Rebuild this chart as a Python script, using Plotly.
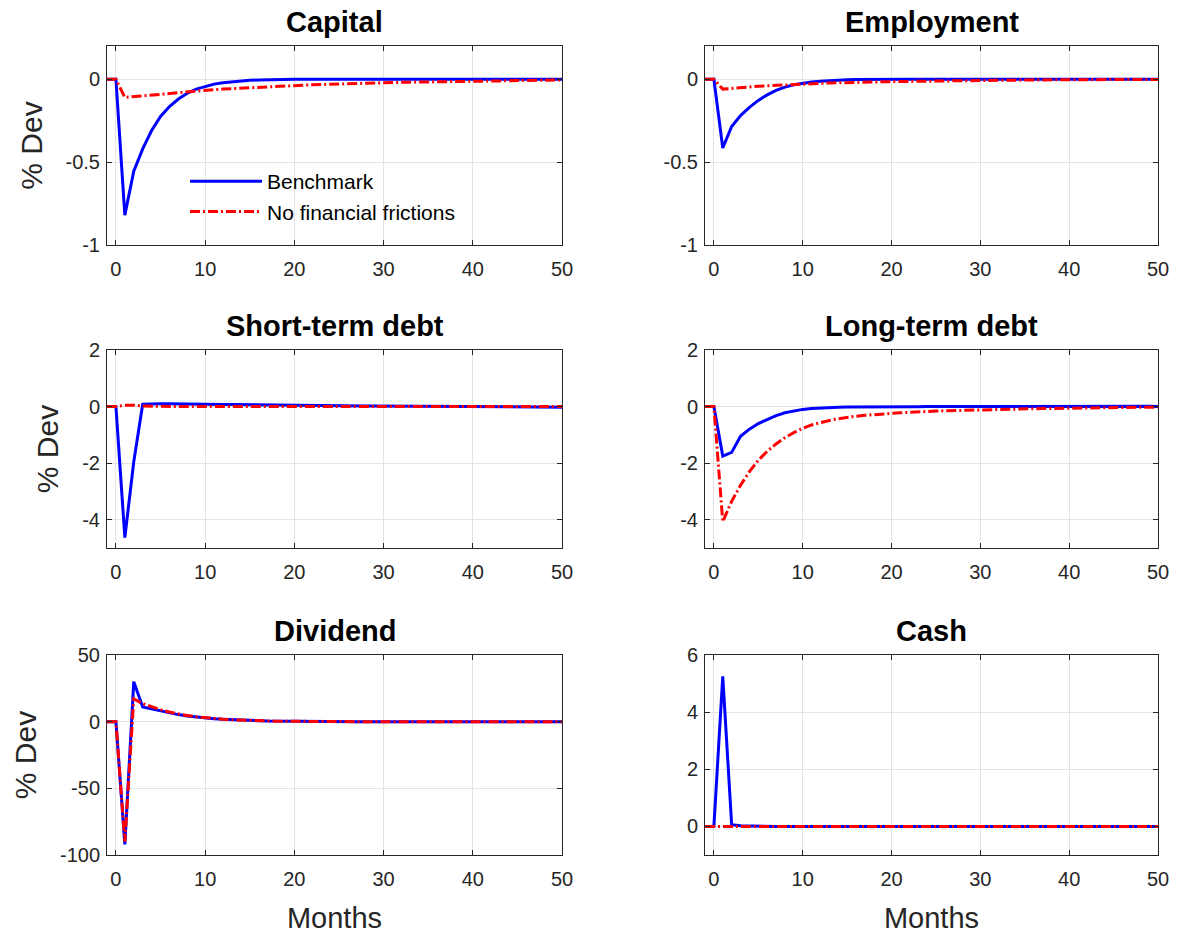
import plotly.graph_objects as go

# Horizon in months (one pre-shock period at -1)
months = list(range(-1, 51))

titles = ["Capital", "Employment", "Short-term debt", "Long-term debt", "Dividend", "Cash"]

capital_bench = [0, 0, -0.82, -0.555, -0.42, -0.31, -0.225, -0.165, -0.12, -0.085, -0.06, -0.043,
                 -0.03, -0.021, -0.015, -0.01, -0.007, -0.005, -0.003, -0.002, -0.001] + [0] * 31
capital_nofric = [0, 0, -0.11, -0.105, -0.1, -0.095, -0.09, -0.085, -0.08, -0.075, -0.071, -0.067,
                  -0.063, -0.06, -0.057, -0.054, -0.051, -0.048, -0.045, -0.043, -0.04, -0.038,
                  -0.036, -0.034, -0.032, -0.03, -0.028, -0.027, -0.025, -0.024, -0.022, -0.021,
                  -0.02, -0.019, -0.018, -0.017, -0.016, -0.015, -0.014, -0.013, -0.012, -0.011,
                  -0.01, -0.0095, -0.009, -0.008, -0.0075, -0.007, -0.0065, -0.006, -0.0055, -0.005]

employ_bench = [0, 0, -0.415, -0.285, -0.22, -0.17, -0.128, -0.095, -0.068, -0.048, -0.034, -0.024,
                -0.017, -0.012, -0.008, -0.005, -0.003, -0.002, -0.001] + [0] * 33
employ_nofric = [0, 0, -0.06, -0.055, -0.051, -0.047, -0.043, -0.04, -0.037, -0.034, -0.031, -0.029,
                 -0.027, -0.025, -0.023, -0.022, -0.02, -0.019, -0.018, -0.017, -0.016, -0.015,
                 -0.014, -0.013, -0.012, -0.011, -0.011, -0.01, -0.009, -0.009, -0.008, -0.008,
                 -0.007, -0.007, -0.006, -0.006, -0.005, -0.005, -0.005, -0.004, -0.004, -0.004,
                 -0.003, -0.003, -0.003, -0.003, -0.003, -0.002, -0.002, -0.002, -0.002, -0.002]

short_bench = [0, 0, -4.63, -1.95, 0.08, 0.1, 0.1, 0.1, 0.1, 0.095, 0.09, 0.085, 0.08, 0.075, 0.07,
               0.065, 0.06, 0.055, 0.05, 0.047, 0.044, 0.04, 0.037, 0.034, 0.031, 0.028, 0.026,
               0.024, 0.022, 0.02, 0.018, 0.016, 0.014, 0.012, 0.011, 0.01, 0.009, 0.008, 0.007,
               0.006, 0.005, 0.004, 0.003, 0.002, 0.001, 0, -0.005, -0.01, -0.015, -0.02, -0.02, -0.02]
short_nofric = [0, 0, 0.05, 0.05, 0.02, 0.01] + [0] * 46

long_bench = [0, 0, -1.75, -1.62, -1.05, -0.8, -0.6, -0.45, -0.32, -0.22, -0.15, -0.1, -0.07,
              -0.05, -0.035, -0.025, -0.018, -0.013, -0.01, -0.008, -0.006, -0.005, -0.004,
              -0.003, -0.002, -0.001] + [0] * 21 + [0.01, 0.02, 0.02, 0.01, 0]
long_nofric = [0, 0, -4.07, -3.35, -2.78, -2.3, -1.9, -1.58, -1.32, -1.1, -0.92, -0.77, -0.65,
               -0.56, -0.49, -0.43, -0.38, -0.34, -0.31, -0.28, -0.26, -0.24, -0.22, -0.2, -0.185,
               -0.17, -0.16, -0.15, -0.14, -0.13, -0.12, -0.11, -0.1, -0.095, -0.09, -0.085, -0.08,
               -0.075, -0.07, -0.065, -0.06, -0.055, -0.05, -0.046, -0.042, -0.038, -0.034, -0.03,
               -0.027, -0.024, -0.021, -0.018]

div_bench = [0, 0, -92, 30, 11, 9.5, 8, 6.5, 5.3, 4.3, 3.5, 2.8, 2.2, 1.8, 1.4, 1.1, 0.9, 0.7,
             0.5, 0.4, 0.3, 0.2, 0.15, 0.1, 0.08, 0.06, 0.04, 0.03, 0.02, 0.01] + [0] * 22
div_nofric = [0, 0, -90, 17, 13.5, 11, 9, 7.2, 5.8, 4.6, 3.7, 2.9, 2.3, 1.8, 1.4, 1.1, 0.85, 0.65,
              0.5, 0.4, 0.3, 0.2, 0.15, 0.1, 0.08, 0.06, 0.04, 0.03, 0.02, 0.01] + [0] * 22

cash_bench = [0, 0, 5.25, 0.06, 0.02, 0.01] + [0] * 46
cash_nofric = [0] * 52

bench_series = [capital_bench, employ_bench, short_bench, long_bench, div_bench, cash_bench]
nofric_series = [capital_nofric, employ_nofric, short_nofric, long_nofric, div_nofric, cash_nofric]

y_ranges = [[-1, 0.2], [-1, 0.2], [-5, 2], [-5, 2], [-100, 50], [-1, 6]]
y_ticks = [[-1, -0.5, 0], [-1, -0.5, 0], [-4, -2, 0, 2], [-4, -2, 0, 2],
           [-100, -50, 0, 50], [0, 2, 4, 6]]
x_ticks = [0, 10, 20, 30, 40, 50]

W, H = 1177, 938
col_px = [(107, 562), (705, 1158)]
row_px = [(46, 245), (350, 548), (655, 855)]

FONT = "Liberation Sans, Arial, Helvetica, sans-serif"
INK = "#262626"
GRID = "#e3e3e3"


def fmt(v):
    return f"{v:g}"


fig = go.Figure()
layout = dict(
    width=W, height=H, margin=dict(l=0, r=0, t=0, b=0, autoexpand=False),
    paper_bgcolor="white", plot_bgcolor="white",
    font=dict(family=FONT, color=INK),
    showlegend=True,
    legend=dict(x=(185 / W), y=1 - 161 / H, xanchor="left", yanchor="top",
                bgcolor="rgba(0,0,0,0)", font=dict(size=21, color="black", family=FONT),
                itemwidth=72, tracegroupgap=0),
)
annotations = []

for i in range(6):
    r, c = divmod(i, 2)
    n = i + 1
    xa = "x" if n == 1 else f"x{n}"
    ya = "y" if n == 1 else f"y{n}"
    x0, x1 = col_px[c]
    top, bot = row_px[r]
    layout["xaxis" if n == 1 else f"xaxis{n}"] = dict(
        domain=[x0 / W, x1 / W], anchor=ya, range=[-1, 50], automargin=False,
        tickvals=x_ticks, ticktext=[fmt(v) for v in x_ticks],
        ticks="inside", ticklen=5, tickcolor=INK, mirror="ticks", ticklabelstandoff=6,
        showline=True, linecolor=INK, linewidth=1,
        showgrid=True, gridcolor=GRID, gridwidth=1, zeroline=False,
        tickfont=dict(size=20, color=INK),
        title=dict(text="Months", font=dict(size=29, color=INK), standoff=18) if r == 2 else None,
    )
    layout["yaxis" if n == 1 else f"yaxis{n}"] = dict(
        domain=[1 - bot / H, 1 - top / H], anchor=xa, range=y_ranges[i], automargin=False,
        tickvals=y_ticks[i], ticktext=[fmt(v) for v in y_ticks[i]],
        ticks="inside", ticklen=5, tickcolor=INK, mirror="ticks", ticklabelstandoff=2,
        showline=True, linecolor=INK, linewidth=1,
        showgrid=True, gridcolor=GRID, gridwidth=1, zeroline=False,
        tickfont=dict(size=20, color=INK),
        title=dict(text="% Dev", font=dict(size=30, color=INK), standoff=14) if c == 0 else None,
    )
    annotations.append(dict(
        text=f"<b>{titles[i]}</b>", x=(x0 + x1) / 2 / W, y=1 - (top - 24) / H,
        xref="paper", yref="paper", xanchor="center", yanchor="middle",
        showarrow=False, font=dict(size=29, color="black", family=FONT),
    ))
    fig.add_trace(go.Scatter(
        x=months, y=bench_series[i], mode="lines", xaxis=xa, yaxis=ya,
        line=dict(color="#0000ff", width=3), name="Benchmark",
        legendgroup="bench", showlegend=(i == 0),
    ))
    fig.add_trace(go.Scatter(
        x=months, y=nofric_series[i], mode="lines", xaxis=xa, yaxis=ya,
        line=dict(color="#ff0000", width=3, dash="10px,3px,2px,3px"),
        name="No financial frictions",
        legendgroup="nofric", showlegend=(i == 0),
    ))

layout["annotations"] = annotations
fig.update_layout(**layout)
fig.write_html("out.html")
